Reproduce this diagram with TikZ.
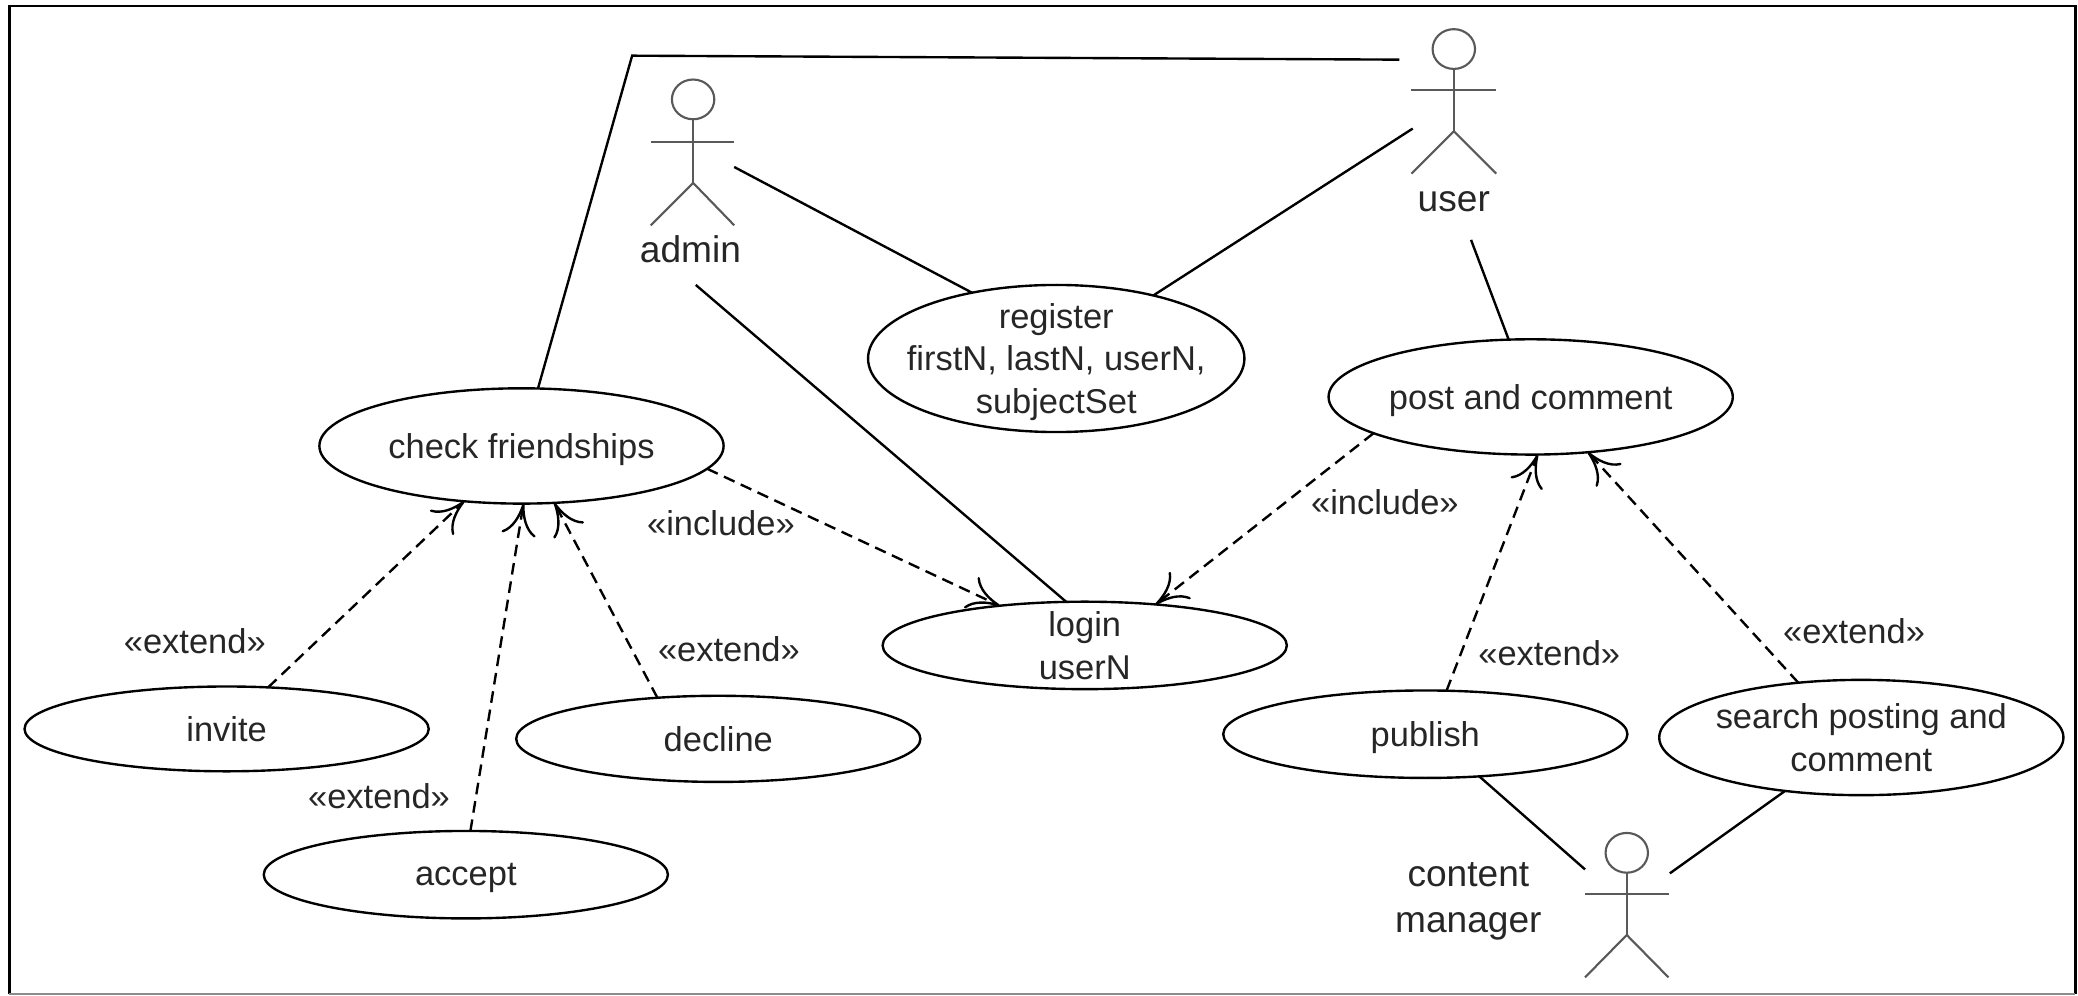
\documentclass[tikz,border=0pt]{standalone}
\usepackage{fontspec}
\setmainfont{Liberation Sans}
\usetikzlibrary{shapes.geometric,arrows.meta}
\tikzset{
    usecase/.style={draw, ellipse, line width=0.9pt, inner sep=-10pt, outer sep=0pt, minimum width=152.5pt, minimum height=33pt, align=center, text depth=0pt, text=black!85},
    txt/.style={inner sep=0pt, align=center, text=black!85},
    actorname/.style={txt, font=\fontsize{14}{17.5}\selectfont},
    assoc/.style={line width=0.9pt},
    dep/.style={line width=0.9pt, dash pattern=on 4.4pt off 2.6pt, -{Computer Modern Rightarrow[length=12pt,width=13pt]}},
    actorline/.style={line width=0.8pt, draw=black!65}
}
\begin{document}
\begin{tikzpicture}[x=0.5pt, y=-0.5pt, font=\fontsize{13}{16}\selectfont]
    \useasboundingbox (0, 0) rectangle (1568, 751);
    % frame
    \draw[line width=1.1pt] (7, 750) -- (7, 4.5) -- (1566, 4.5) -- (1566, 750);
    \draw[line width=0.6pt, draw=black!45] (7, 750) -- (1566, 750);

    % actors
    \draw[actorline] (523, 75) ellipse (16 and 15);
    \draw[actorline] (523, 90) -- (523, 138);
    \draw[actorline] (491, 107) -- (554, 107);
    \draw[actorline] (491, 170) -- (523, 138) -- (554, 170);
    \node[actorname] (adminLabel) at (521, 188) {admin};

    \draw[actorline] (1097, 37) ellipse (16 and 15);
    \draw[actorline] (1097, 52) -- (1097, 99);
    \draw[actorline] (1065, 68) -- (1129, 68);
    \draw[actorline] (1065, 131) -- (1097, 99) -- (1129, 131);
    \node[actorname] (userLabel) at (1097, 152) {user};

    \draw[actorline] (1227.5, 643.5) ellipse (16 and 15);
    \draw[actorline] (1227.5, 658.5) -- (1227.5, 705.5);
    \draw[actorline] (1196, 674.5) -- (1259, 674.5);
    \draw[actorline] (1196, 737.5) -- (1227.5, 705.5) -- (1259, 737.5);
    \node[actorname] (managerLabel) at (1108, 680) {content\\manager};

    % use cases
    \node[usecase, minimum height=43.5pt] (check) at (393.5, 336.5) {check friendships};
    \node[usecase, minimum width=142pt, minimum height=55.5pt] (register) at (797, 270.5) {register\\firstN, lastN, userN,\\subjectSet};
    \node[usecase, minimum height=43.5pt] (post) at (1155, 299.5) {post and comment};
    \node[usecase] (login) at (818.5, 487) {login\\userN};
    \node[usecase, minimum height=32pt] (invite) at (171, 550) {invite};
    \node[usecase, minimum height=32.5pt] (decline) at (542, 557.5) {decline};
    \node[usecase] (accept) at (351.5, 660) {accept};
    \node[usecase] (publish) at (1075.5, 554) {publish};
    \node[usecase, minimum height=43.5pt] (search) at (1404.5, 556.5) {search posting and\\comment};

    % free ends at the actors
    \coordinate (userWest) at (1056, 45);
    \coordinate (bend) at (477, 42);
    \coordinate (userSouthWest) at (1066, 97);
    \coordinate (userSouth) at (1110, 181);
    \coordinate (adminEast) at (554, 126);
    \coordinate (adminSouth) at (525, 215);
    \coordinate (managerWest) at (1196, 656);
    \coordinate (managerEast) at (1260, 659);

    % associations
    \draw[assoc] (userWest) -- (bend) -- (check.74);
    \draw[assoc] (adminEast) -- (register.142.3);
    \draw[assoc] (userSouthWest) -- (register.33.1);
    \draw[assoc] (adminSouth) -- (login.113.8);
    \draw[assoc] (userSouth) -- (post.111.5);
    \draw[assoc] (publish.-38.9) -- (managerWest);
    \draw[assoc] (search.-145) -- (managerEast);

    % include and extend
    \draw[dep] (check.-7.8) -- (login.155.9);
    \draw[dep] (post.193.5) -- (login.30.6);
    \draw[dep] (invite.45.3) -- (check.-136.2);
    \draw[dep] (accept.84) -- (check.-88);
    \draw[dep] (decline.146.7) -- (check.-60.8);
    \draw[dep] (publish.64.8) -- (post.-83.4);
    \draw[dep] (search.139) -- (post.-44.1);

    \node[txt] (includeLeft) at (544, 395) {«include»};
    \node[txt] (includeRight) at (1045, 379) {«include»};
    \node[txt] (extendInvite) at (147, 484) {«extend»};
    \node[txt] (extendAccept) at (286, 601) {«extend»};
    \node[txt] (extendDecline) at (550, 490) {«extend»};
    \node[txt] (extendPublish) at (1169, 493) {«extend»};
    \node[txt] (extendSearch) at (1399, 476) {«extend»};
\end{tikzpicture}
\end{document}
